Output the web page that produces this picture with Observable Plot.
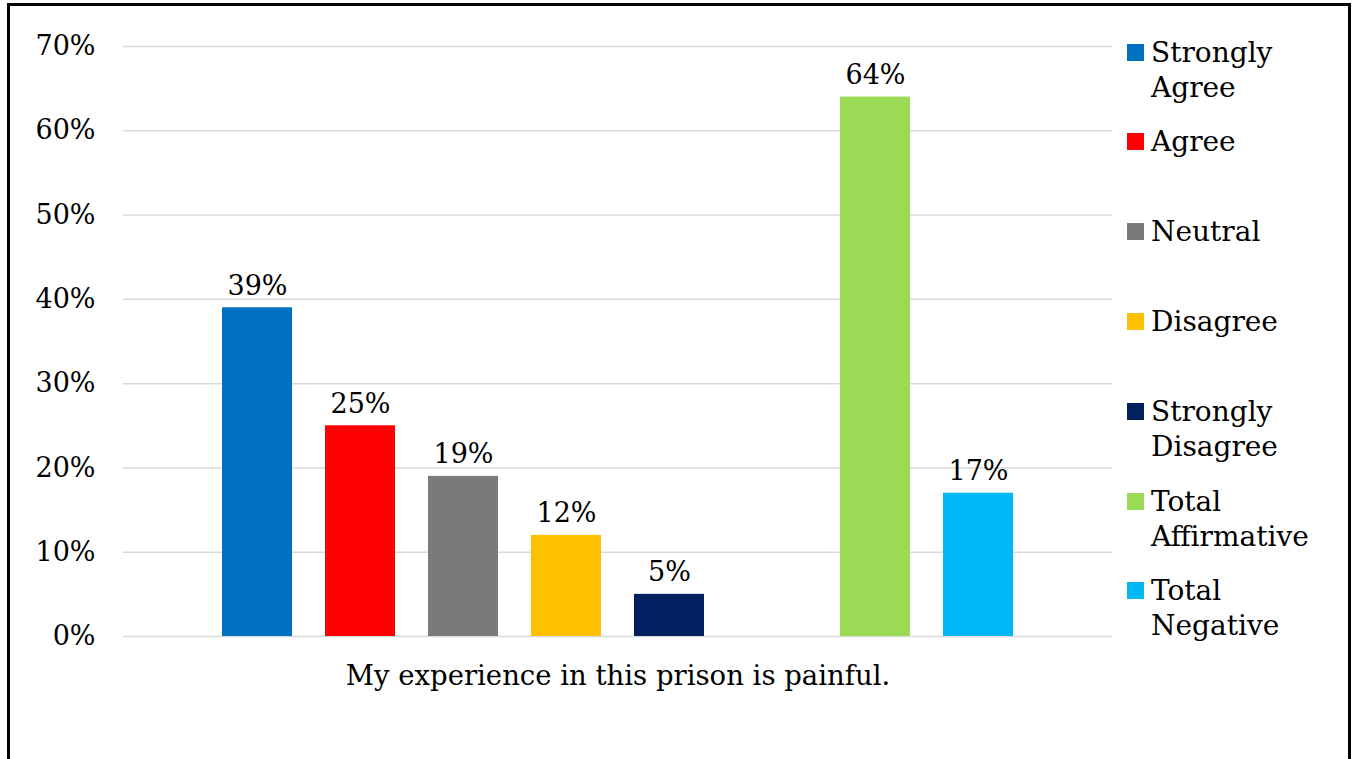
<!DOCTYPE html>
<html>
<head>
<meta charset="utf-8">
<script src="https://cdn.jsdelivr.net/npm/d3@7"></script>
<script src="https://cdn.jsdelivr.net/npm/@observablehq/plot@0.6"></script>
<style>
  html, body { margin: 0; padding: 0; background: #fff; }
  #wrap { position: relative; width: 1354px; height: 759px; overflow: hidden; background: #fff; font-family: "DejaVu Serif", serif; }
  #border { position: absolute; left: 7px; top: 3px; width: 1338px; height: 800px; border: 3px solid #000; pointer-events: none; }
  #chart { position: absolute; left: 0; top: 0; }
  .legend-item { position: absolute; left: 1127px; }
  .legend-swatch { position: absolute; left: 0; width: 17px; height: 17px; }
  .legend-label { position: absolute; left: 24px; top: 0; font-size: 28px; line-height: 35px; color: #000; white-space: nowrap; }
</style>
</head>
<body>
<div id="wrap">
  <div id="chart"></div>
  <div id="legend"></div>
  <div id="border"></div>
</div>
<script>
const categories = ["Strongly Agree", "Agree", "Neutral", "Disagree", "Strongly Disagree", "Total Affirmative", "Total Negative"];
const legendLines = [["Strongly", "Agree"], ["Agree"], ["Neutral"], ["Disagree"], ["Strongly", "Disagree"], ["Total", "Affirmative"], ["Total", "Negative"]];
const values = [39, 25, 19, 12, 5, 64, 17];
const colors = ["#0070C0", "#FF0000", "#7A7A7A", "#FFC000", "#002060", "#9BDA55", "#00B8F5"];
const yTicks = [0, 10, 20, 30, 40, 50, 60, 70];
const groupLabel = "My experience in this prison is painful.";
const gapSlot = "(gap)";

const xDomain = [...categories.slice(0, 5), gapSlot, ...categories.slice(5)];
const data = categories.map((c, i) => ({category: c, value: values[i]}));

const chart = Plot.plot({
  width: 1354,
  height: 759,
  marginLeft: 123,
  marginRight: 242,
  marginTop: 46,
  marginBottom: 123,
  style: {fontFamily: "DejaVu Serif, serif", fontSize: "27px", color: "#000", background: "transparent"},
  x: {domain: xDomain, paddingInner: 0.32, paddingOuter: 0.96, axis: null},
  y: {domain: [0, 70], label: null},
  color: {domain: categories, range: colors},
  marks: [
    Plot.gridY(yTicks, {stroke: "#d9d9d9", strokeOpacity: 1, strokeWidth: 1.5}),
    Plot.axisY(yTicks, {tickSize: 0, tickPadding: 28, tickFormat: d => d + "%", fontSize: 27, fill: "#000", label: null}),
    Plot.barY(data, {x: "category", y: "value", fill: "category"}),
    Plot.text(data, {x: "category", y: "value", text: d => d.value + "%", lineAnchor: "bottom", dy: -13, fontSize: 27, fill: "#000"}),
    Plot.text([groupLabel], {frameAnchor: "bottom", dy: 40, text: d => d, lineAnchor: "middle", fontSize: 27.5, fill: "#000"})
  ]
});
document.getElementById("chart").appendChild(chart);

const legend = document.getElementById("legend");
categories.forEach((c, i) => {
  const centerY = 52 + i * 89.8;
  const item = document.createElement("div");
  item.className = "legend-item";
  item.style.top = (centerY - 17.5) + "px";
  const sw = document.createElement("div");
  sw.className = "legend-swatch";
  sw.style.background = colors[i];
  sw.style.top = "9px";
  const lab = document.createElement("div");
  lab.className = "legend-label";
  lab.innerHTML = legendLines[i].join("<br>");
  item.appendChild(sw);
  item.appendChild(lab);
  legend.appendChild(item);
});
</script>
</body>
</html>
